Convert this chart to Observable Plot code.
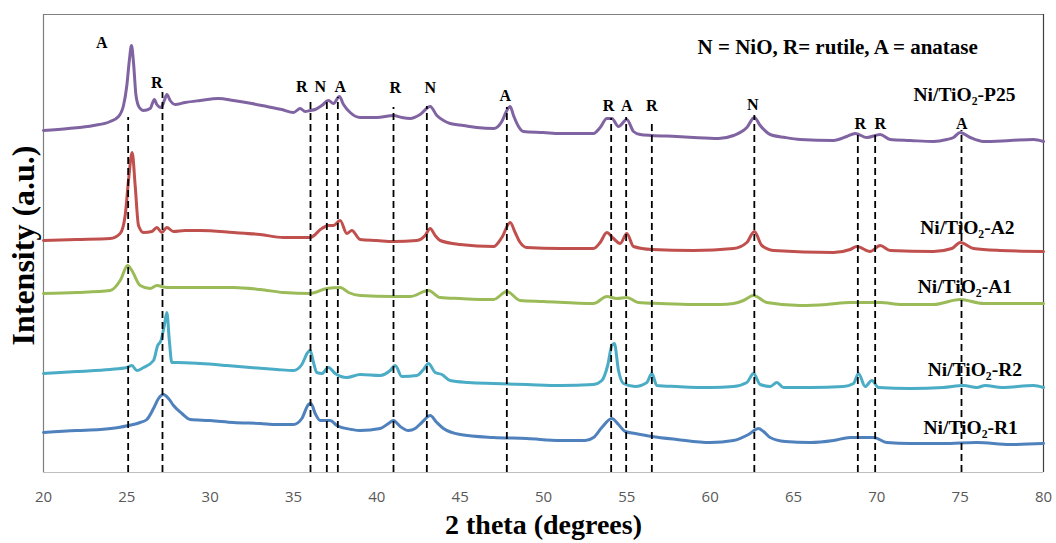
<!DOCTYPE html>
<html>
<head>
<meta charset="utf-8">
<script src="https://cdn.jsdelivr.net/npm/d3@7"></script>
<script src="https://cdn.jsdelivr.net/npm/@observablehq/plot@0.6"></script>
<style>
  html, body { margin: 0; padding: 0; background: #fff; }
  #chart { width: 1056px; height: 543px; }
</style>
</head>
<body>
<div id="chart"></div>
<script>
// ---------- Data (2θ in degrees, intensity in a.u. with the stacking offset included) ----------
const p25X = [20,21.5,23,24,24.5,24.8,25,25.15,25.28,25.4,25.55,25.75,26,26.4,26.65,26.8,27.05,27.25,27.4,27.6,27.9,28.5,29.4,30.5,31.4,32.5,33.4,34.3,35,35.4,35.7,36,36.3,36.7,37.1,37.4,37.75,38,38.4,39,40,41,41.5,42,42.6,43.2,43.6,44,44.4,45.2,46,47,47.5,47.8,48,48.2,48.5,48.8,50,51,52,53,53.4,53.8,54.1,54.5,55,55.4,55.8,56.5,58,59,60.5,61.4,62.2,62.65,63,63.6,64.5,65.4,67.4,68.2,68.7,69.4,70.2,70.8,72,73.4,74.2,74.6,75,75.6,76.4,78,79.4,80];
const p25Y = [342,344,347,351,356,367,387,412,427,410,377,365,362,364,373,368,365,372,378,372,368,370,372,374,372,369,366,363,360,364,361,362,363,367,372,369,376,368,360,355,355,357,355,354,358,366,357,352,349,347,345,344,351,362,366,357,346,341,340,339,339,339,345,354,354,346,353,341,338,337,336,335,334,337,345,355,347,338,335,333,332,336,339,335,338,333,332,331,333,335,340,335,331,332,333,331];

const a2X = [20,22,24,24.6,24.9,25.1,25.32,25.5,25.7,26,26.5,26.8,27.1,27.4,27.8,28.5,29.4,31.4,33,34.4,35.5,36,36.7,37.1,37.4,37.8,38.2,38.5,39,40,41,42.4,42.9,43.2,43.5,43.8,45,47,47.5,48,48.3,48.6,49,51,53,53.4,53.8,54.2,54.6,55,55.4,56.5,59,61.4,62.2,62.65,63.1,63.8,67.4,68.4,68.8,69.6,70.2,70.8,73.4,74.5,75,75.8,77.4,80];
const a2Y = [232,233,234,239,257,292,320,287,247,240,241,245,240,245,241,242,242,240,238,235,235,235,244,247,247,252,239,242,233,232,231,232,237,244,237,232,228,226,235,250,240,230,225,224,224,230,240,234,229,239,226,223,222,224,230,241,227,222,220,223,226,221,227,222,221,224,230,224,222,221];

const a1X = [20,22,24,24.6,25.05,25.3,25.8,26.4,26.8,27.4,29,31.4,33,34.4,36,37,37.8,38.3,39,41,42,43.1,43.8,45,47,47.8,48.6,50,53,53.8,54.4,55,55.7,57,59,60.6,61.4,62,62.6,63.4,65.4,67,68.4,70.2,71.5,73.4,75,76.4,78,80];
const a1Y = [179,180,182,192,207,202,187,184,187,185,185,185,183,180,179,184,185,180,177,176,176,182,175,174,173,181,172,171,169,176,174,175,170,169,168,168,169,172,177,170,167,168,170,170,168,168,173,169,169,169];

const r2X = [20,22,24,25,25.3,25.6,26,26.6,26.85,27.05,27.25,27.4,27.55,27.7,28,29.4,31,32.4,34,35,35.5,35.85,36,36.2,36.4,36.7,37.1,37.5,38.2,39,40.2,40.8,41.1,41.5,42.4,42.8,43.1,43.5,43.9,44.4,45.5,47,49,51,53,53.5,53.85,54.1,54.25,54.5,54.8,55.5,56.2,56.5,56.8,58,60,61.4,62.2,62.6,63,63.6,64,64.4,66,68,68.6,68.9,69.3,69.7,70.1,72,74,75.2,76,76.5,77.5,79.4,80];
const r2Y = [99,101,103,105,107,102,105,112,127,132,147,160,132,110,110,109,107,105,103,102,108,120,122,110,100,99,105,99,95,98,97,102,107,96,97,103,109,100,98,92,90,89,88,87,88,92,107,127,129,102,89,86,90,99,87,86,85,86,90,99,88,86,90,85,85,86,89,99,86,92,85,84,85,87,85,87,85,87,85];

const r1X = [20,22,23.4,24.5,25.1,25.8,26.2,26.6,26.9,27.2,27.5,27.8,28.3,28.8,30,31.4,33,34,35,35.5,35.9,36.05,36.3,36.6,37.2,37.6,38.5,39,40.2,40.7,41,41.4,41.9,42.3,42.7,43.2,43.6,44,45,47,49,51,52.5,53,53.5,54.1,54.5,54.9,55.5,56.5,58,60,61.4,62.3,62.9,63.2,63.6,64.5,66,67.4,68.4,69,69.8,70.6,72,74,76,78,80];
const r1Y = [40,42,43,45,47,50,53,64,74,78,74,67,59,53,52,50,49,48,48,54,68,69,59,52,52,47,43,42,44,49,52,46,42,44,50,57,50,44,38,35,34,32,32,35,45,54,48,41,39,36,33,30,32,38,44,41,35,31,30,32,35,35,35,30,29,29,30,28,29];

const seriesNames  = ["Ni/TiO₂-P25", "Ni/TiO₂-A2", "Ni/TiO₂-A1", "Ni/TiO₂-R2", "Ni/TiO₂-R1"];
const seriesColors = ["#8064A2", "#C0504D", "#9BBB59", "#4BACC6", "#4F81BD"];
const labelX = [72.2, 72.6, 72.45, 73.05, 72.8];
const labelY = [372, 239, 180, 97, 39];

// reference peak lines (2θ) and where each dashed line stops
const refPos = [25.08, 27.14, 36.02, 37.0, 37.66, 41.0, 43.0, 47.8, 54.06, 54.96, 56.5, 62.65, 68.86, 69.9, 75.08];
const refTop = [355, 380, 374, 373, 375, 365, 366, 365, 354, 355, 350, 357, 340, 339, 342];

// phase letters above the lines
const phaseLetters = ["A","R","R","N","A","R","N","A","R","A","R","N","R","R","A"];
const phaseX = [23.5, 26.8, 35.5, 36.6, 37.8, 41.1, 43.2, 47.7, 53.9, 55.0, 56.5, 62.55, 69.0, 70.2, 75.1];
const phaseY = [425, 385, 381, 381, 381, 380, 380, 372, 362, 362, 362, 363, 344, 344, 344];

const xTicks = [20, 25, 30, 35, 40, 45, 50, 55, 60, 65, 70, 75, 80];
const keyText = "N = NiO, R= rutile, A = anatase";
const xTitle = "2 theta (degrees)";
const yTitle = "Intensity (a.u.)";

// ---------- Build ----------
const seriesXY = [[p25X, p25Y], [a2X, a2Y], [a1X, a1Y], [r2X, r2Y], [r1X, r1Y]];
const seriesRows = seriesXY.map(([xs, ys]) => xs.map((x, i) => ({x, y: ys[i]})));
const refRows = refPos.map((x, i) => ({x, top: refTop[i]}));
const phaseRows = phaseLetters.map((t, i) => ({t, x: phaseX[i], y: phaseY[i]}));
const labelRows = seriesNames.map((t, i) => ({t, x: labelX[i], y: labelY[i], c: seriesColors[i]}));

const serif = "Liberation Serif, Times New Roman, serif";

const chart = Plot.plot({
  width: 1056,
  height: 543,
  marginLeft: 43,
  marginRight: 13,
  marginTop: 14,
  marginBottom: 71,
  style: {background: "#fff"},
  x: {domain: [20, 80]},
  y: {domain: [0, 458], axis: null},
  marks: [
    // plot area border
    Plot.ruleY([0], {stroke: "#BFBFBF", strokeWidth: 1.2}),
    Plot.ruleY([458], {stroke: "#7F7F7F", strokeWidth: 1.2}),
    Plot.ruleX([20], {stroke: "#7F7F7F", strokeWidth: 1.2}),
    Plot.ruleX([80], {stroke: "#404040", strokeWidth: 1.2}),
    // patterns
    ...seriesRows.map((rows, k) => Plot.line(rows, {
      x: "x", y: "y", stroke: seriesColors[k], strokeWidth: 3, curve: "monotone-x"
    })),
    // reference lines
    Plot.ruleX(refRows, {x: "x", y1: 0, y2: "top", stroke: "#000", strokeWidth: 1.8, strokeDasharray: "7,4"}),
    // phase letters
    Plot.text(phaseRows, {x: "x", y: "y", text: "t", lineAnchor: "bottom", fontSize: 16, fontWeight: "bold", fontFamily: serif, fill: "#000"}),
    // series labels
    Plot.text(labelRows, {x: "x", y: "y", text: "t", textAnchor: "start", lineAnchor: "bottom", fontSize: 19.5, fontWeight: "bold", fontFamily: serif, fill: "#000"}),
    // key
    Plot.text([keyText], {x: 59.24, y: 419, textAnchor: "start", lineAnchor: "bottom", fontSize: 21, fontWeight: "bold", fontFamily: serif, fill: "#000"}),
    // x axis
    Plot.axisX({ticks: xTicks, tickSize: 0, tickPadding: 19, fontSize: 15, fontFamily: "Open Sans, sans-serif", color: "#595959", label: null}),
    Plot.text([xTitle], {frameAnchor: "bottom", dy: 61, lineAnchor: "bottom", fontSize: 28, fontWeight: "bold", fontFamily: serif, fill: "#000"}),
    Plot.text([yTitle], {frameAnchor: "left", textAnchor: "middle", rotate: -90, dx: -20, dy: 2, fontSize: 32, fontWeight: "bold", fontFamily: serif, fill: "#000"})
  ]
});
document.getElementById("chart").appendChild(chart);
</script>
</body>
</html>
